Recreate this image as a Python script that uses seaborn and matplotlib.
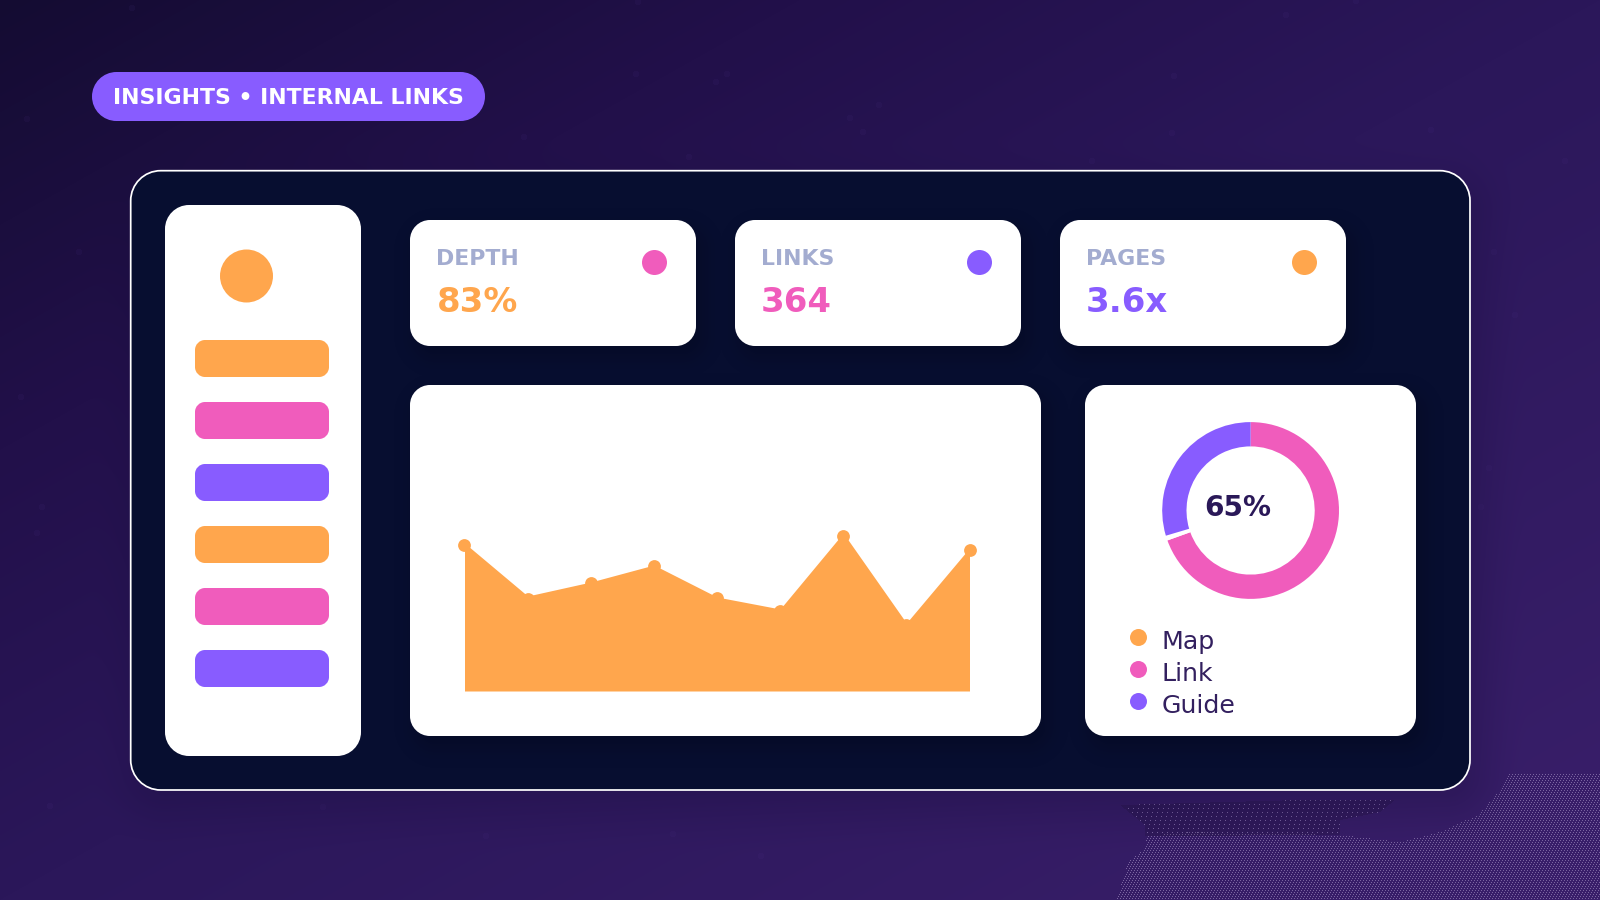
import numpy as np
import pandas as pd
import matplotlib
matplotlib.use("Agg")
import matplotlib.pyplot as plt
from matplotlib.patches import PathPatch, Circle
from matplotlib.path import Path
import seaborn as sns

# ---------- data ----------
pill_text = "INSIGHTS • INTERNAL LINKS"
kpi_labels = ["DEPTH", "LINKS", "PAGES"]
kpi_values = ["83%", "364", "3.6x"]
area_steps = [0, 1, 2, 3, 4, 5, 6, 7, 8]
area_values = [148, 95, 109, 126, 94, 82, 158, 68, 143]
point_values = [146, 92, 108, 125, 93, 80, 155, 66, 141]
donut_labels = ["Link", "gap", "Guide"]
donut_values = [69.5, 0.9, 29.6]
donut_center_text = "65%"
legend_labels = ["Map", "Link", "Guide"]

ORANGE = "#FFA64D"
PINK = "#F05CBC"
PURPLE = "#885CFF"
NAVY = np.array([7, 14, 48]) / 255
LABEL = "#A3ACD0"
INK = "#33205F"
INK_BOLD = "#2A1858"

sns.set_theme(style="white")
plt.rcParams["font.family"] = ["DejaVu Sans"]

W, H = 1600, 900
fig = plt.figure(figsize=(16, 9), dpi=100)
bg = fig.add_axes([0, 0, 1, 1], zorder=0)
bg.set_xlim(0, W)
bg.set_ylim(H, 0)
bg.axis("off")


def sdf(xx, yy, x0, y0, x1, y1, r):
    cx, cy = (x0 + x1) / 2, (y0 + y1) / 2
    qx = np.abs(xx - cx) - ((x1 - x0) / 2 - r)
    qy = np.abs(yy - cy) - ((y1 - y0) / 2 - r)
    return np.hypot(np.maximum(qx, 0), np.maximum(qy, 0)) + np.minimum(np.maximum(qx, qy), 0) - r


def soft(d, blur):
    v = np.clip(0.5 - d / (2 * blur), 0, 1)
    return v ** 2 * (3 - 2 * v)


# ---------- background raster ----------
yy, xx = np.mgrid[0:H, 0:W] + 0.5
t = (xx / W + yy / H) / 2
stops = [0, 0.25, 0.5, 1.0]
cols = np.array([[20, 12, 50], [34, 16, 74], [43, 23, 90], [58, 31, 107]]) / 255
img = np.dstack([np.interp(t, stops, cols[:, c]) for c in range(3)])

# faint specks
specks = [(132, 8), (638, 2), (727, 74), (716, 82), (636, 74), (27, 119), (524, 137), (689, 157),
          (1356, 1), (1286, 15), (1174, 76), (879, 105), (850, 118), (863, 132), (1172, 133),
          (1431, 130), (1092, 161), (1565, 161), (79, 252), (21, 397), (42, 507), (37, 533),
          (50, 806), (1494, 252), (1515, 315), (1489, 468), (1481, 507), (323, 807), (486, 836),
          (673, 834), (761, 856)]
for sx, sy in specks:
    m = np.hypot(xx - sx, yy - sy) < 3.2
    img[m] = img[m] * 0.91 + np.array([80, 50, 140]) / 255 * 0.09

# dithered region bottom-right
region = Path([(1117, 900), (1128, 862), (1145, 848), (1147, 836), (1190, 832), (1340, 835),
               (1400, 842), (1437, 833), (1478, 815), (1500, 790), (1510, 773), (1600, 773), (1600, 900)])
pts = np.column_stack([xx.ravel(), yy.ravel()])
mask = region.contains_points(pts).reshape(H, W)
iy, ix = np.mgrid[0:H, 0:W]
pattern = (iy % 2 == 0) & ((ix + iy // 2) % 3 == 0)
DOT = np.array([122, 100, 160]) / 255
img[mask & pattern] = DOT
# upper sparse blotch
blotch = Path([(1120, 805), (1300, 800), (1395, 800), (1380, 812), (1340, 820), (1340, 835),
               (1145, 836), (1145, 825)])
bm = blotch.contains_points(pts).reshape(H, W)
img[bm] = img[bm] * 0.88
img[bm & (iy % 4 == 0) & ((ix + iy // 4) % 5 == 0)] = DOT

# panel shadow
sh = soft(sdf(xx, yy, 130 + 8, 170 + 16, 1470 + 8, 790 + 16, 30), 50)[..., None] * 0.4
img = img * (1 - sh) + np.array([24, 12, 60]) / 255 * sh
# panel
p = sdf(xx, yy, 130.7, 170.7, 1470, 790, 30) <= 0
img[p] = NAVY

cards = [(165, 205, 361, 756, 24), (410, 220, 696, 346, 20), (735, 220, 1021, 346, 20),
         (1060, 220, 1346, 346, 20), (410, 385, 1041, 736, 20), (1085, 385, 1416, 736, 20)]
for x0, y0, x1, y1, r in cards[1:]:
    s = soft(sdf(xx, yy, x0 + 6, y0 + 10, x1 + 6, y1 + 10, r), 22)[..., None] * 0.45 * p[..., None]
    img = img * (1 - s) + np.array([3, 6, 26]) / 255 * s

bg.imshow(img, extent=(0, W, H, 0), interpolation="nearest", aspect="auto", zorder=0)


def rbox(x0, y0, x1, y1, r, **kw):
    kw.setdefault("lw", 0)
    kw.setdefault("snap", False)
    k = 0.5523 * r
    v = [(x0 + r, y0), (x1 - r, y0),
         (x1 - r + k, y0), (x1, y0 + r - k), (x1, y0 + r), (x1, y1 - r),
         (x1, y1 - r + k), (x1 - r + k, y1), (x1 - r, y1), (x0 + r, y1),
         (x0 + r - k, y1), (x0, y1 - r + k), (x0, y1 - r), (x0, y0 + r),
         (x0, y0 + r - k), (x0 + r - k, y0), (x0 + r, y0), (x0 + r, y0)]
    c = [Path.MOVETO, Path.LINETO,
         Path.CURVE4, Path.CURVE4, Path.CURVE4, Path.LINETO,
         Path.CURVE4, Path.CURVE4, Path.CURVE4, Path.LINETO,
         Path.CURVE4, Path.CURVE4, Path.CURVE4, Path.LINETO,
         Path.CURVE4, Path.CURVE4, Path.CURVE4, Path.CLOSEPOLY]
    patch = PathPatch(Path(v, c), **kw)
    bg.add_patch(patch)
    return patch


def disc(x, y, r, c):
    bg.add_patch(Circle((x, y), r, fc=c, lw=0, snap=False, zorder=3))


# panel border
rbox(130.7, 170.7, 1470, 790, 30, fc="none", ec="white", lw=1.25, zorder=2)

# pill
rbox(92, 72, 485, 121, 24.5, fc=PURPLE, zorder=3)
bg.text(113, 103.5, pill_text, color="white", fontsize=15.8, fontweight="bold", va="baseline", zorder=4)

# cards
for x0, y0, x1, y1, r in cards:
    rbox(x0, y0, x1, y1, r, fc="white", zorder=2)

# sidebar
disc(246.5, 276, 26.5, ORANGE)
bar_colors = [ORANGE, PINK, PURPLE, ORANGE, PINK, PURPLE]
for i, c in enumerate(bar_colors):
    rbox(195, 340 + 62 * i, 329, 377 + 62 * i, 10, fc=c, zorder=3)

# KPI
kpi_x = [436.5, 761, 1086]
kpi_dot_x = [654.5, 979.5, 1304.5]
kpi_dot_c = [PINK, PURPLE, ORANGE]
kpi_val_c = [ORANGE, PINK, PURPLE]
for lab, val, x, dx, dc, vc in zip(kpi_labels, kpi_values, kpi_x, kpi_dot_x, kpi_dot_c, kpi_val_c):
    bg.text(x, 265, lab, color=LABEL, fontsize=15.8, fontweight="bold", va="baseline", zorder=4)
    bg.text(x, 312, val, color=vc, fontsize=24.4, fontweight="bold", va="baseline", zorder=4)
    disc(dx, 262.5, 12.5, dc)

# ---------- area chart ----------
ax = fig.add_axes([464.5 / W, 1 - 691 / H, 505 / W, 200 / H], zorder=3)
ax.patch.set_alpha(0)
ax.fill_between(area_steps, area_values, 0, color=ORANGE, lw=0)
sns.scatterplot(x=area_steps, y=point_values, color=ORANGE, s=(12.8 * 0.72) ** 2, linewidth=0,
                ax=ax, clip_on=False, legend=False)
ax.set_xlim(0, 8)
ax.set_ylim(0, 200)
ax.axis("off")

# ---------- donut ----------
r_out = 88.4
cx, cy = 1250.6, 510.5
dax = fig.add_axes([(cx - r_out) / W, 1 - (cy + r_out) / H, 2 * r_out / W, 2 * r_out / H], zorder=3)
dax.pie(donut_values, colors=[PINK, "white", PURPLE], startangle=90, counterclock=False, radius=1,
        wedgeprops=dict(width=24.3 / r_out, linewidth=0))
dax.set_xlim(-1, 1)
dax.set_ylim(-1, 1)
bg.text(1238, 508, donut_center_text, color=INK_BOLD, fontsize=20.2, fontweight="bold",
        ha="center", va="center", zorder=5)

# ---------- legend ----------
leg_df = pd.DataFrame({"x": [1138.5] * 3, "y": [637.5, 669.5, 701.5], "label": legend_labels})
sns.scatterplot(data=leg_df, x="x", y="y", hue="label", palette=[ORANGE, PINK, PURPLE],
                s=(17 * 0.72) ** 2, linewidth=0, ax=bg, legend=False, zorder=5)
bg.set_xlim(0, W)
bg.set_ylim(H, 0)
bg.set_xlabel("")
bg.set_ylabel("")
for lab, y in zip(legend_labels, [642, 674, 706]):
    bg.text(1162, y, lab, color=INK, fontsize=18.2, va="center", zorder=5)

fig.savefig("out.png", dpi=100)
